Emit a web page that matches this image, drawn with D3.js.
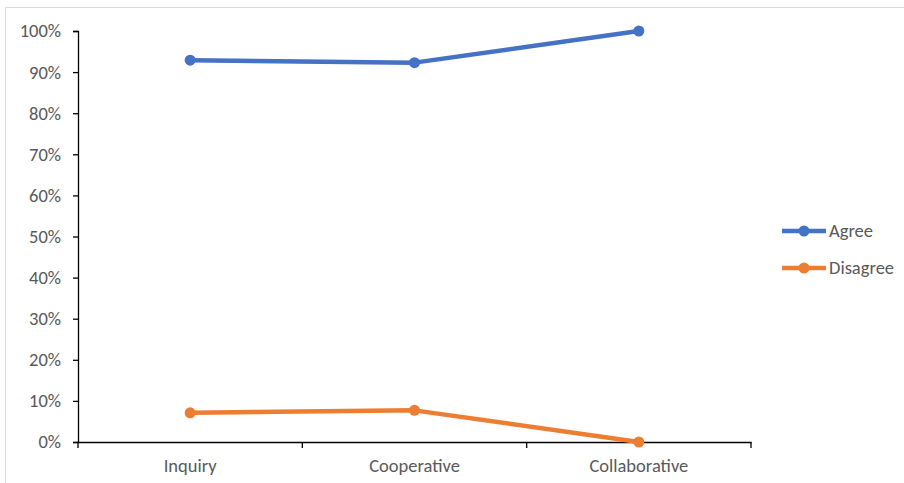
<!DOCTYPE html>
<html>
<head>
<meta charset="utf-8">
<script src="https://cdn.jsdelivr.net/npm/d3@7"></script>
<style>
  html, body { margin: 0; padding: 0; background: #fff; }
  svg { display: block; }
  text { font-family: Carlito, Calibri, "Open Sans", "Noto Sans", sans-serif; }
</style>
</head>
<body>
<svg id="chart" width="904" height="483"></svg>
<script>
// Share of responses per learning approach
const categories = ["Inquiry", "Cooperative", "Collaborative"];
const agree = [0.929, 0.923, 1.0];
const disagree = [0.071, 0.077, 0.0];
const yTicks = [0, 0.1, 0.2, 0.3, 0.4, 0.5, 0.6, 0.7, 0.8, 0.9, 1.0];
const seriesNames = ["Agree", "Disagree"];
const seriesColors = ["#4472C4", "#ED7D31"];

const fontSize = 18.5;
const svg = d3.select("#chart");

// outer chart frame
svg.append("rect")
  .attr("x", 5.5).attr("y", 7.5)
  .attr("width", 920).attr("height", 500)
  .attr("fill", "none").attr("stroke", "#d9d9d9").attr("stroke-width", 1);

const plot = { left: 78, right: 751, top: 31, bottom: 442 };

const x = d3.scaleBand().domain(categories).range([plot.left, plot.right]);
const y = d3.scaleLinear().domain([0, 1]).range([plot.bottom, plot.top]);

// y axis
const yAxis = svg.append("g")
  .attr("transform", `translate(${plot.left},0)`)
  .call(d3.axisLeft(y).tickValues(yTicks).tickFormat(d3.format(".0%")).tickSize(5).tickPadding(12));
yAxis.select(".domain").attr("stroke", "#000").attr("stroke-width", 1.3);
yAxis.selectAll(".tick line").attr("stroke", "#000").attr("stroke-width", 1.3);
yAxis.selectAll(".tick text").attr("fill", "#595959").attr("font-size", fontSize);

// x axis with boundary ticks between categories
const xAxis = svg.append("g")
  .attr("transform", `translate(0,${plot.bottom})`)
  .call(d3.axisBottom(x).tickSize(0).tickPadding(17));
xAxis.select(".domain").attr("stroke", "#000").attr("stroke-width", 1.3);
xAxis.selectAll(".tick text").attr("fill", "#595959").attr("font-size", fontSize);
const bounds = categories.map(c => x(c)).concat([x(categories[categories.length - 1]) + x.bandwidth()]);
xAxis.selectAll(".bound").data(bounds).enter().append("line")
  .attr("class", "bound")
  .attr("x1", d => d).attr("x2", d => d)
  .attr("y1", 0).attr("y2", 6)
  .attr("stroke", "#000").attr("stroke-width", 1.3);

const cx = c => x(c) + x.bandwidth() / 2;
const line = d3.line().x((d, i) => cx(categories[i])).y(d => y(d));

[agree, disagree].forEach((vals, s) => {
  const g = svg.append("g");
  g.append("path")
    .attr("d", line(vals))
    .attr("fill", "none")
    .attr("stroke", seriesColors[s])
    .attr("stroke-width", 4.5)
    .attr("stroke-linejoin", "round");
  g.selectAll("circle").data(vals).enter().append("circle")
    .attr("cx", (d, i) => cx(categories[i]))
    .attr("cy", d => y(d))
    .attr("r", 5.5)
    .attr("fill", seriesColors[s]);
});

// legend
const legend = svg.append("g");
seriesNames.forEach((name, i) => {
  const ly = 231 + i * 37;
  legend.append("line")
    .attr("x1", 782).attr("x2", 826).attr("y1", ly).attr("y2", ly)
    .attr("stroke", seriesColors[i]).attr("stroke-width", 4.5);
  legend.append("circle")
    .attr("cx", 804).attr("cy", ly).attr("r", 5.5).attr("fill", seriesColors[i]);
  legend.append("text")
    .attr("x", 829).attr("y", ly).attr("dy", "0.35em")
    .attr("fill", "#595959").attr("font-size", fontSize)
    .text(name);
});
</script>
</body>
</html>
